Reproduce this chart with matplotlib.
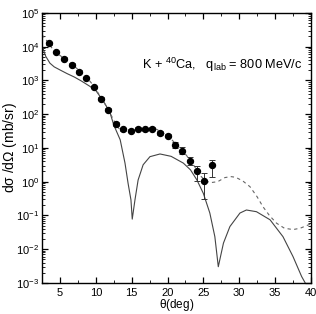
import matplotlib
matplotlib.use("Agg")
import matplotlib.pyplot as plt
from matplotlib.ticker import LogLocator, MultipleLocator, NullFormatter
import numpy as np

plt.rcParams['font.family'] = ['Liberation Sans', 'DejaVu Sans']
plt.rcParams['mathtext.fontset'] = 'custom'
plt.rcParams['mathtext.rm'] = 'Liberation Sans'
plt.rcParams['mathtext.it'] = 'Liberation Sans'

# experimental points (theta in deg, log10 of dsigma/dOmega in mb/sr)
theta_exp = [3.5, 4.5, 5.6, 6.7, 7.7, 8.7, 9.7, 10.7, 11.7, 12.8, 13.8, 14.85,
             15.85, 16.9, 17.9, 19.0, 20.0, 21.0, 22.05, 23.1, 24.1, 25.1, 26.2]
log_exp = [4.10, 3.84, 3.64, 3.47, 3.26, 3.07, 2.80, 2.46, 2.13, 1.71, 1.55, 1.51,
           1.57, 1.55, 1.57, 1.44, 1.36, 1.09, 0.92, 0.62, 0.32, 0.03, 0.49]
err_lo_dex = [0.05, 0.04, 0.04, 0.04, 0.04, 0.04, 0.04, 0.04, 0.04, 0.05, 0.05, 0.05,
              0.05, 0.05, 0.05, 0.05, 0.05, 0.08, 0.10, 0.12, 0.30, 0.54, 0.36]
err_hi_dex = [0.05, 0.04, 0.04, 0.04, 0.04, 0.04, 0.04, 0.04, 0.04, 0.05, 0.05, 0.05,
              0.05, 0.05, 0.05, 0.05, 0.05, 0.08, 0.10, 0.12, 0.14, 0.23, 0.15]

# solid curve
theta_solid = [2.5, 3.0, 3.6, 4.2, 5.0, 6.0, 7.0, 8.0, 9.2, 10.0, 10.6, 11.3, 12.0,
               12.5, 13.4, 14.07, 14.5, 14.9, 15.08, 15.46, 15.9, 16.6, 17.55, 18.95,
               20.5, 22.2, 23.2, 24.1, 25.0, 25.9, 26.6, 27.08, 27.8, 28.7, 30.1,
               31.0, 32.4, 34.3, 36.1, 37.5, 38.7, 39.2, 40.0]
log_solid = [4.03, 3.72, 3.51, 3.40, 3.31, 3.20, 3.10, 2.98, 2.82, 2.70, 2.52, 2.30, 2.03,
             1.68, 1.24, 0.55, -0.05, -0.54, -1.11, -0.54, 0.05, 0.50, 0.74, 0.82,
             0.75, 0.55, 0.35, 0.05, -0.35, -0.93, -1.63, -2.52, -1.82, -1.33, -0.93,
             -0.84, -0.89, -1.13, -1.63, -2.22, -2.81, -3.0, -3.4]

# dashed curve
theta_dash = [2.5, 3.0, 3.5, 4.0, 4.5, 5.5, 6.6, 7.7, 8.7, 9.7, 10.7, 11.7, 12.6, 13.2,
              13.8, 14.8, 15.8, 16.8, 17.9, 18.5, 19.0, 20.0, 21.0, 22.0, 23.0, 24.0,
              24.7, 25.3, 26.0, 27.0, 28.0, 28.8, 29.5, 30.5, 31.5, 32.5, 33.3, 34.2,
              35.2, 36.3, 37.5, 38.5, 40.0]
log_dash = [4.35, 4.22, 4.08, 3.92, 3.82, 3.66, 3.49, 3.29, 3.10, 2.84, 2.50, 2.15, 1.78,
            1.58, 1.52, 1.52, 1.57, 1.58, 1.58, 1.55, 1.48, 1.38, 1.15, 0.95, 0.68, 0.38,
            0.15, 0.02, -0.03, 0.0, 0.12, 0.15, 0.13, 0.02, -0.15, -0.45, -0.74, -1.0,
            -1.23, -1.38, -1.42, -1.38, -1.25]

y_exp = 10 ** np.array(log_exp)
yerr = [y_exp - 10 ** (np.array(log_exp) - np.array(err_lo_dex)),
        10 ** (np.array(log_exp) + np.array(err_hi_dex)) - y_exp]

fig = plt.figure(figsize=(3.16, 3.14), dpi=100)
ax = fig.add_axes([0.133, 0.099, 0.851, 0.860])

ax.plot(theta_solid, 10 ** np.array(log_solid), color='#444444', lw=0.8)
ax.plot(theta_dash, 10 ** np.array(log_dash), color='#666666', lw=0.8, ls=(0, (3, 3)))
ax.errorbar(theta_exp, y_exp, yerr=yerr, fmt='o', color='black', ms=4.3,
            ecolor='#333333', elinewidth=0.7, capsize=2.2, capthick=0.7)

ax.set_yscale('log')
ax.set_xlim(2.5, 40)
ax.set_ylim(1e-3, 1e5)

ax.xaxis.set_major_locator(MultipleLocator(5))
ax.xaxis.set_minor_locator(MultipleLocator(2.5))
ax.yaxis.set_major_locator(LogLocator(base=10, numticks=20))
ax.yaxis.set_minor_locator(LogLocator(base=10, subs=np.arange(2, 10), numticks=20))
ax.yaxis.set_minor_formatter(NullFormatter())

ax.tick_params(which='both', direction='in', top=True, right=True, labelsize=8)
ax.tick_params(which='major', length=4.5, width=0.9)
ax.tick_params(which='minor', length=2, width=0.6)
ax.tick_params(axis='y', pad=2)
ax.tick_params(axis='x', pad=4)
for s in ax.spines.values():
    s.set_linewidth(1.0)

ax.set_xlabel(r'$\theta$(deg)', fontsize=8.5, labelpad=-1)
ax.set_ylabel(r'd$\sigma$ /d$\Omega$ (mb/sr)', fontsize=10)
ax.yaxis.set_label_coords(-0.085, 0.5)

ax.text(16.4, 10 ** 3.46, r'K + $^{40}$Ca,   q$_{\rm lab}$ = 800 MeV/c', fontsize=9.2,
        va='center', ha='left')

fig.savefig('out.png', dpi=100)
